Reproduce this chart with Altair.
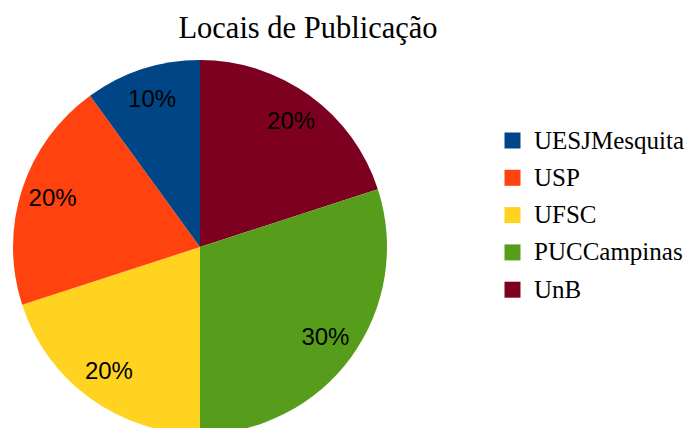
import altair as alt
import pandas as pd

categories = ["UnB", "PUCCampinas", "UFSC", "USP", "UESJMesquita"]
values = [20, 30, 20, 20, 10]
labels = ["20%", "30%", "20%", "20%", "10%"]
legend_order = ["UESJMesquita", "USP", "UFSC", "PUCCampinas", "UnB"]
colors = ["#004586", "#ff420e", "#ffd320", "#579d1c", "#7e0021"]

df = pd.DataFrame({
    "local": categories,
    "valor": values,
    "rotulo": labels,
    "ordem": list(range(len(categories))),
})

cx, cy = 192, 189

base = alt.Chart(df).encode(
    theta=alt.Theta("valor:Q", stack=True),
    order=alt.Order("ordem:Q"),
    x=alt.value(cx),
    y=alt.value(cy),
)

arcs = base.mark_arc(radius=187, clip=True).encode(
    color=alt.Color(
        "local:N",
        scale=alt.Scale(domain=legend_order, range=colors),
        legend=alt.Legend(
            title=None,
            orient="none",
            legendX=492,
            legendY=70,
            symbolType="square",
            symbolSize=256,
            symbolStrokeWidth=0,
            labelFont="Liberation Serif",
            labelFontSize=25,
            labelColor="#000000",
            labelOffset=9,
            rowPadding=11.3,
            labelLimit=300,
        ),
    )
)

texts = base.mark_text(
    radius=155, font="Liberation Sans", fontSize=24, color="#000000"
).encode(text="rotulo:N")

chart = (
    alt.layer(arcs, texts)
    .properties(
        width=680,
        height=370,
        padding={"left": 0, "top": 50, "right": 0, "bottom": 0},
        autosize=alt.AutoSizeParams(type="none"),
        title=alt.TitleParams(
            "Locais de Publicação",
            font="Liberation Serif",
            fontSize=30.5,
            fontWeight="normal",
            color="#000000",
            anchor="middle",
            dx=-40,
            offset=14,
        ),
    )
    .configure_view(stroke=None)
)

chart.save("out.html", embed_options={"renderer": "svg", "actions": False})
